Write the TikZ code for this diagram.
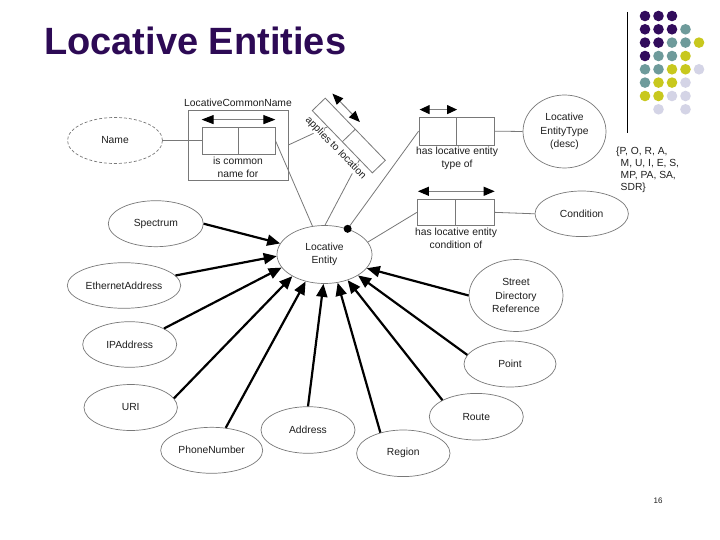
\documentclass[tikz,border=0pt]{standalone}
\usepackage{fontspec}
\setmainfont{Liberation Sans}
\usetikzlibrary{arrows.meta,shapes.geometric}
\definecolor{titlepurple}{RGB}{45,10,85}
\definecolor{dpurple}{RGB}{50,12,92}
\definecolor{dteal}{RGB}{110,155,155}
\definecolor{dyellow}{RGB}{200,200,30}
\definecolor{dlav}{RGB}{212,212,230}
\definecolor{linegray}{RGB}{120,120,120}
\definecolor{txt}{RGB}{30,30,30}
\begin{document}
\begin{tikzpicture}[x=1pt,y=-1pt,
  ent/.style={ellipse, draw=linegray, line width=0.7pt, fill=white, inner sep=0pt,
    text=txt, align=center, font=\fontsize{10.3}{13.3}\selectfont},
  cell/.style={rectangle, draw=linegray, line width=0.8pt, inner sep=0pt},
  lbl/.style={text=txt, align=center, inner sep=0pt, font=\fontsize{10.3}{12.8}\selectfont},
  conn/.style={draw=linegray, line width=0.8pt},
  big/.style={draw=black, line width=2.2pt, -{Triangle[length=13pt,width=11pt]}},
  dbl/.style={draw=gray, line width=1pt,
    {Triangle[length=11pt,width=9pt,color=black]}-{Triangle[length=11pt,width=9pt,color=black]}},
  dot/.style={circle, inner sep=0pt, minimum size=10.6pt}
]
\useasboundingbox (0,0) rectangle (720,540);
\fill[white] (0,0) rectangle (720,540);

% title
\node[anchor=base west, inner sep=0pt, text=titlepurple,
  font=\fontsize{38}{40}\selectfont\bfseries] (title) at (44,55) {Locative Entities};

% decoration dots
\draw[black, line width=1pt] (627,12) -- (627,133);
\foreach \c [count=\i] in {dpurple,dpurple,dpurple}
  \node[dot, fill=\c] at ({645+13.5*(\i-1)},16) {};
\foreach \c [count=\i] in {dpurple,dpurple,dpurple,dteal}
  \node[dot, fill=\c] at ({645+13.5*(\i-1)},29.3) {};
\foreach \c [count=\i] in {dpurple,dpurple,dteal,dteal,dyellow}
  \node[dot, fill=\c] at ({645+13.5*(\i-1)},42.6) {};
\foreach \c [count=\i] in {dpurple,dteal,dteal,dyellow}
  \node[dot, fill=\c] at ({645+13.5*(\i-1)},56) {};
\foreach \c [count=\i] in {dteal,dteal,dyellow,dyellow,dlav}
  \node[dot, fill=\c] at ({645+13.5*(\i-1)},69.3) {};
\foreach \c [count=\i] in {dteal,dyellow,dyellow,dlav}
  \node[dot, fill=\c] at ({645+13.5*(\i-1)},82.6) {};
\foreach \c [count=\i] in {dyellow,dyellow,dlav,dlav}
  \node[dot, fill=\c] at ({645+13.5*(\i-1)},96) {};
\node[dot, fill=dlav] at (658.5,109.3) {};
\node[dot, fill=dlav] at (685.5,109.3) {};

% entities
\node[ent, minimum width=95pt, minimum height=58pt] (le) at (324.5,254.5) {Locative\\Entity};
\node[ent, dashed, dash pattern=on 3pt off 2pt, minimum width=95pt, minimum height=46pt] (name) at (115,140.5) {Name};
\node[ent, minimum width=95pt, minimum height=46pt] (spec) at (155.8,223.7) {Spectrum};
\node[ent, minimum width=113.4pt, minimum height=45.6pt] (eth) at (124,285.5) {EthernetAddress};
\node[ent, minimum width=94pt, minimum height=45.6pt] (ip) at (129.7,344.5) {IPAddress};
\node[ent, minimum width=93.4pt, minimum height=46pt] (uri) at (130.7,407.5) {URI};
\node[ent, minimum width=102pt, minimum height=46pt] (phone) at (211.7,450.3) {PhoneNumber};
\node[ent, minimum width=94pt, minimum height=46.6pt] (addr) at (308,430) {Address};
\node[ent, minimum width=93.4pt, minimum height=46.6pt] (region) at (403.3,453.3) {Region};
\node[ent, minimum width=94pt, minimum height=46.6pt] (route) at (476.3,416.7) {Route};
\node[ent, minimum width=92pt, minimum height=46pt] (point) at (510,364) {Point};
\node[ent, minimum width=94pt, minimum height=72pt] (street) at (516,295.5) {Street\\Directory\\Reference};
\node[ent, minimum width=83pt, minimum height=73pt, font=\fontsize{10.3}{13.8}\selectfont] (let) at (564.5,131.5) {Locative\\EntityType\\(desc)};
\node[ent, minimum width=93.4pt, minimum height=45.6pt] (cond) at (581.7,213.8) {Condition};

% LocativeCommonName box
\node[cell, minimum width=100pt, minimum height=70pt] (lcnbox) at (238,145) {};
\node[cell, minimum width=36.5pt, minimum height=27pt] (lcnA) at (220.25,140.5) {};
\node[cell, minimum width=36.5pt, minimum height=27pt] (lcnB) at (256.75,140.5) {};
\draw[dbl, {Triangle[length=12pt,width=9pt,color=black]}-{Triangle[length=12pt,width=9pt,color=black]}] (lcnA.north west) ++(0,-7) coordinate (lcnarrowA) -- (lcnarrowA -| lcnB.east);
\node[lbl] (lcnlabel) at (238,103) {LocativeCommonName};
\node[lbl] (lcntext) at (238,167.5) {is common\\name for};

% type box
\node[cell, minimum width=37.7pt, minimum height=27.7pt] (typeA) at (437.85,131.15) {};
\node[cell, minimum width=37.7pt, minimum height=27.7pt] (typeB) at (475.55,131.15) {};
\draw[dbl, {Triangle[length=10pt,width=9pt,color=black]}-{Triangle[length=10pt,width=9pt,color=black]}] (typeA.north west) ++(1,-7.3) coordinate (typearrow) -- (typearrow -| typeA.east);
\node[lbl] (typetext) at (457,158.5) {has locative entity\\type of};

% condition box
\node[cell, minimum width=38.5pt, minimum height=26.7pt] (condA) at (436.55,212.35) {};
\node[cell, minimum width=38.5pt, minimum height=26.7pt] (condB) at (475.05,212.35) {};
\draw[dbl, {Triangle[length=11pt,width=9pt,color=black]}-{Triangle[length=11pt,width=9pt,color=black]}] (condA.north west) ++(1,-7.3) coordinate (condarrow) -- (condarrow -| condB.east);
\node[lbl] (condtext) at (456,238.5) {has locative entity\\condition of};

% rotated box
\begin{scope}[shift={(348.8,135.5)}, rotate=-46]
  \draw[conn] (-43.25,-9) rectangle (43.25,9);
  \draw[conn] (0,-9) -- (0,9);
  \draw[dbl, {Triangle[length=11pt,width=9pt,color=black]}-{Triangle[length=11pt,width=9pt,color=black]}] (-41.5,-17.3) coordinate (rbA) -- (-2,-17.3) coordinate (rbB);
  \coordinate (rb1) at (-20.9,9);
  \coordinate (rb2) at (24.8,9);
  \coordinate (apc) at (0,18.3);
\end{scope}

% thin connectors
\draw[conn] (name.east) -- (lcnA.west);
\draw[conn] (lcnB.east) -- (le.113);
\draw[conn] (lcnbox.east) -- (rb1);
\draw[conn] (rb2) -- (le.89);
\draw[conn] (le.48.4) -- (typeA.west);
\fill[black] (le.48.4) circle (4);
\draw[conn] (le.16.5) -- (condA.west);
\draw[conn] (typeB.east) -- (let.west);
\draw[conn] (condB.east) -- (cond.west);

\node[lbl, fill=white, inner sep=0.6pt, rotate=-46] (applies) at (apc) {applies to location};

% braces text
\node[anchor=north west, align=left, inner sep=0pt, text=txt,
  font=\fontsize{10.3}{12}\selectfont] (codes) at (616,146.8)
  {\{P, O, R, A,\\\hspace{4.5pt}M, U, I, E, S,\\\hspace{4.5pt}MP, PA, SA,\\\hspace{4.5pt}SDR\}};

% thick arrows
\draw[big] (spec.0) -- (le.166.7);
\draw[big] (eth.11.6) -- (le.182.7);
\draw[big] (ip.25.7) -- (le.197.9);
\draw[big] (uri.12.2) -- (le.214.6);
\draw[big] (phone.58) -- (le.235.4);
\draw[big] (addr.90) -- (le.268);
\draw[big] (region.138.5) -- (le.295.4);
\draw[big] (route.154) -- (le.312);
\draw[big] (point.168) -- (le.328.8);
\draw[big] (street.180) -- (le.342.5);

% page number
\node[inner sep=0pt, text=txt, font=\fontsize{8}{9}\selectfont] (pagenum) at (658,501) {16};
\end{tikzpicture}
\end{document}
